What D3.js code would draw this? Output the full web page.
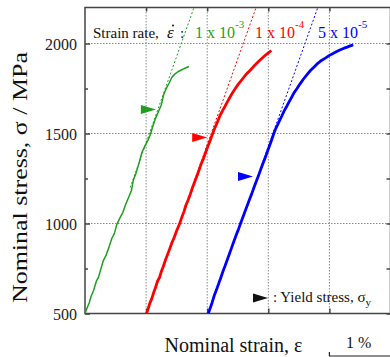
<!DOCTYPE html>
<html lang="en">
<head>
<meta charset="UTF-8">
<title>Stress-strain</title>
<script src="https://d3js.org/d3.v7.min.js"></script>
<style>
  body { margin: 0; background: #fff; }
  svg { display: block; font-family: "Liberation Serif", "Times New Roman", serif; }
  .tick text { font-size: 16px; fill: #222; }
  .grid { stroke: #8a8a8a; stroke-width: 1; stroke-dasharray: 1.5 1.5; }
</style>
</head>
<body>
<svg id="chart" width="390" height="357"></svg>
<script>
// strain (%) , stress (MPa)
const green = [[0.000,500],[0.03,528],[0.07,560],[0.10,596],[0.14,628],[0.19,683],[0.22,700],[0.26,748],[0.30,794],[0.34,820],[0.39,866],[0.44,918],[0.48,944],[0.52,994],[0.57,1030],[0.62,1062],[0.67,1110],[0.72,1150],[0.76,1183],[0.79,1240],[0.83,1275],[0.88,1330],[0.93,1394],[0.98,1430],[1.03,1462],[1.07,1494],[1.11,1540],[1.15,1580],[1.21,1628],[1.25,1660],[1.29,1718],[1.33,1750],[1.38,1782],[1.42,1811],[1.47,1830],[1.52,1843],[1.56,1850],[1.62,1860],[1.70,1872]];
const red = [[1.006,500],[1.03,522],[1.06,556],[1.09,580],[1.12,612],[1.15,640],[1.19,682],[1.22,700],[1.25,734],[1.28,760],[1.32,800],[1.35,826],[1.39,862],[1.43,900],[1.46,922],[1.50,960],[1.55,1000],[1.58,1030],[1.62,1066],[1.65,1100],[1.69,1132],[1.72,1160],[1.76,1200],[1.79,1226],[1.83,1262],[1.87,1300],[1.90,1330],[1.94,1362],[1.98,1400],[2.01,1428],[2.05,1462],[2.09,1500],[2.12,1526],[2.15,1550],[2.18,1574],[2.21,1600],[2.25,1626],[2.29,1650],[2.33,1676],[2.37,1700],[2.41,1724],[2.46,1750],[2.51,1774],[2.57,1800],[2.63,1826],[2.70,1850],[2.77,1876],[2.84,1900],[2.91,1922],[2.97,1940],[3.01,1950],[3.05,1961]];
const blue = [[2.018,500],[2.05,530],[2.08,560],[2.12,604],[2.15,630],[2.19,668],[2.22,696],[2.26,736],[2.29,762],[2.33,800],[2.37,838],[2.40,866],[2.44,904],[2.48,940],[2.51,966],[2.55,1004],[2.59,1040],[2.62,1068],[2.66,1104],[2.70,1140],[2.73,1166],[2.77,1204],[2.81,1240],[2.84,1266],[2.88,1304],[2.92,1340],[2.95,1366],[2.99,1404],[3.04,1450],[3.09,1500],[3.12,1526],[3.155,1550],[3.19,1576],[3.225,1600],[3.26,1626],[3.30,1650],[3.34,1676],[3.38,1700],[3.42,1726],[3.47,1750],[3.52,1776],[3.57,1800],[3.63,1826],[3.69,1850],[3.75,1870],[3.81,1890],[3.87,1906],[3.94,1920],[4.00,1934],[4.06,1945],[4.12,1955],[4.18,1965],[4.24,1974],[4.29,1980],[4.34,1987],[4.39,1992]];

// elastic fit lines (dotted)
const greenFit = [[0.74,1200],[1.784,2200]];
const redFit = [[1.75,1200],[2.80,2200]];
const blueFit = [[2.76,1200],[3.81,2200]];

// yield stress markers (arrow tip)
const yieldPts = [[1.16,1633],[2.00,1478],[2.75,1261]];

const rates = [["1 x 10", "-3"], ["1 x 10", "-4"], ["5 x 10", "-5"]];
const colors = ["#1f9e1f", "#ff0000", "#0000ff"];
const yTicks = [500, 1000, 1500, 2000];
const yMinor = [750, 1250, 1750];
const xTicks = [1, 2, 3, 4];

const svg = d3.select("#chart");
const x = d3.scaleLinear().domain([0, 5]).range([85, 390.5]);
const y = d3.scaleLinear().domain([500, 2200]).range([313.5, 7.5]);

// grid
svg.append("g").selectAll("line").data(yTicks.slice(1)).join("line")
  .attr("class", "grid")
  .attr("x1", x(0)).attr("x2", x(5))
  .attr("y1", d => y(d)).attr("y2", d => y(d));
svg.append("g").selectAll("line").data(xTicks).join("line")
  .attr("class", "grid")
  .attr("x1", d => x(d)).attr("x2", d => x(d))
  .attr("y1", y(500)).attr("y2", y(2200));

// axes
const axisCol = "#444";
const styleAxis = g => {
  g.select(".domain").remove();
  g.selectAll(".tick line").attr("stroke", axisCol).attr("stroke-width", 1.5);
};
svg.append("g").attr("transform", `translate(${x(0)},0)`)
  .call(d3.axisLeft(y).tickValues(yTicks).tickSizeInner(-5).tickSizeOuter(0).tickPadding(8).tickFormat(d3.format("d")))
  .call(styleAxis)
  .selectAll("text").attr("dy", "0.36em").style("font-family", "Liberation Serif");
svg.append("g").attr("transform", `translate(${x(0)},0)`)
  .call(d3.axisLeft(y).tickValues(yMinor).tickSizeInner(-3).tickSizeOuter(0).tickFormat(""))
  .call(styleAxis);
svg.append("g").attr("transform", `translate(${x(5)},0)`)
  .call(d3.axisRight(y).tickValues(yTicks.concat(yMinor)).tickSizeInner(-4).tickSizeOuter(0).tickFormat(""))
  .call(styleAxis);
svg.append("g").attr("transform", `translate(0,${y(500)})`)
  .call(d3.axisBottom(x).tickValues(xTicks).tickSizeInner(-5).tickSizeOuter(0).tickFormat(""))
  .call(styleAxis);
svg.append("g").attr("transform", `translate(0,${y(2200)})`)
  .call(d3.axisTop(x).tickValues(xTicks).tickSizeInner(-4).tickSizeOuter(0).tickFormat(""))
  .call(styleAxis);

svg.append("rect")
  .attr("x", x(0)).attr("y", y(2200))
  .attr("width", x(5) - x(0)).attr("height", y(500) - y(2200))
  .attr("fill", "none").attr("stroke", axisCol).attr("stroke-width", 1.5);

// curves
svg.append("clipPath").attr("id", "clip").append("rect")
  .attr("x", x(0)).attr("y", y(2200)).attr("width", x(5) - x(0)).attr("height", y(500) - y(2200));
const line = d3.line().x(d => x(d[0])).y(d => y(d[1]));
const plot = svg.append("g").attr("clip-path", "url(#clip)");

[greenFit, redFit, blueFit].forEach((f, i) => {
  plot.append("path").attr("d", line(f))
    .attr("fill", "none").attr("stroke", colors[i])
    .attr("stroke-width", 1).attr("stroke-dasharray", "2 2");
});
[green, red, blue].forEach((c, i) => {
  plot.append("path").attr("d", line(c))
    .attr("fill", "none").attr("stroke", colors[i])
    .attr("stroke-width", i === 0 ? 1.5 : 2.8)
    .attr("stroke-linejoin", "round");
});

// yield arrows
const arrow = "M0,0 L-15,-4.5 L-15,4.5 Z";
svg.append("g").selectAll("path").data(yieldPts).join("path")
  .attr("d", arrow)
  .attr("transform", d => `translate(${x(d[0])},${y(d[1])})`)
  .attr("fill", (d, i) => colors[i]);

// strain rate header (epsilon-dot: dot drawn as a tiny circle above the glyph)
const hdr = svg.append("text").attr("x", 93).attr("y", 38).attr("font-size", 15).attr("fill", "#111");
hdr.append("tspan").text("Strain rate,");
hdr.append("tspan").attr("x", 167).attr("font-size", 17).attr("font-style", "italic").text("\u03B5");
hdr.append("tspan").attr("x", 180).text(":");
svg.append("circle").attr("cx", 173).attr("cy", 25.5).attr("r", 1).attr("fill", "#111");

const rateX = [195, 255, 318];
rates.forEach((r, i) => {
  const t = svg.append("text").attr("x", rateX[i]).attr("y", 38)
    .attr("font-size", 16).attr("fill", colors[i]);
  t.append("tspan").text(r[0]);
  t.append("tspan").attr("dy", -10).attr("font-size", 11).text(r[1]);
});

// yield legend
svg.append("path").attr("d", arrow).attr("transform", "translate(268,298)").attr("fill", "#111");
const yl = svg.append("text").attr("x", 273).attr("y", 302).attr("font-size", 15).attr("fill", "#111");
yl.append("tspan").text(": Yield stress, \u03C3");
yl.append("tspan").attr("dy", 4).attr("font-size", 11).text("y");

// axis titles
svg.append("text")
  .attr("transform", "translate(27,177.5) rotate(-90)")
  .attr("text-anchor", "middle").attr("font-size", 22).attr("fill", "#111")
  .attr("textLength", 251).attr("lengthAdjust", "spacingAndGlyphs")
  .text("Nominal stress, \u03C3  /  MPa");
svg.append("text")
  .attr("x", 233.5).attr("y", 352)
  .attr("text-anchor", "middle").attr("font-size", 20).attr("fill", "#111")
  .text("Nominal strain, \u03B5");

// 1 % scale bar
svg.append("text").attr("x", 346).attr("y", 348).attr("font-size", 16).attr("fill", "#111").text("1 %");
svg.append("path")
  .attr("d", `M${x(4)},352 V356 H${x(5)}`)
  .attr("fill", "none").attr("stroke", "#222").attr("stroke-width", 1.2);
</script>
</body>
</html>
